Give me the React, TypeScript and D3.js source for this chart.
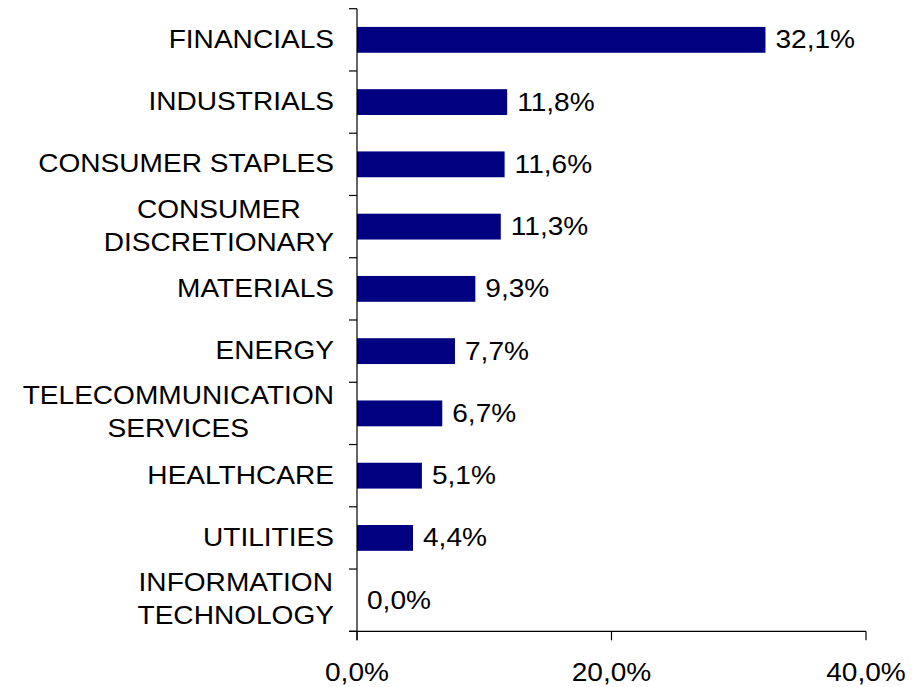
import { useEffect, useRef } from 'react';
import * as d3 from 'd3';

const categories = [
  ['FINANCIALS'],
  ['INDUSTRIALS'],
  ['CONSUMER STAPLES'],
  ['CONSUMER', 'DISCRETIONARY'],
  ['MATERIALS'],
  ['ENERGY'],
  ['TELECOMMUNICATION', 'SERVICES'],
  ['HEALTHCARE'],
  ['UTILITIES'],
  ['INFORMATION', 'TECHNOLOGY'],
];
const values = [32.1, 11.8, 11.6, 11.3, 9.3, 7.7, 6.7, 5.1, 4.4, 0.0];
const xTicks = [0, 20, 40];

const W = 918;
const H = 687;
const FONT = '"Liberation Sans", Arial, sans-serif';
const FS = 26;
const STRETCH = 1.08;

const fmt = (v: number) => v.toFixed(1).replace('.', ',') + '%';

export default function App() {
  const ref = useRef<SVGSVGElement>(null);

  useEffect(() => {
    if (!ref.current) return;
    const svg = d3.select(ref.current);
    svg.selectAll('*').remove();

    const margin = { top: 8.7, left: 357, right: 52, bottom: 55.7 };
    const innerW = W - margin.left - margin.right;
    const innerH = H - margin.top - margin.bottom;

    const keys = categories.map((c) => c.join(' '));
    const x = d3.scaleLinear().domain([0, 40]).range([0, innerW]);
    const y = d3.scaleBand().domain(keys).range([0, innerH])
      .paddingInner(0.585).paddingOuter(0.2925);
    const step = y.step();

    const g = svg.append('g').attr('transform', `translate(${margin.left},${margin.top})`);

    // bars
    g.selectAll('rect.bar')
      .data(values)
      .join('rect')
      .attr('class', 'bar')
      .attr('x', 0)
      .attr('y', (_, i) => y(keys[i])!)
      .attr('width', (d) => x(d))
      .attr('height', y.bandwidth())
      .attr('fill', '#000080');

    // axes lines
    g.append('line')
      .attr('x1', 0).attr('x2', 0)
      .attr('y1', 0).attr('y2', innerH + 9)
      .attr('stroke', '#000').attr('stroke-width', 1.2);
    g.append('line')
      .attr('x1', -8).attr('x2', innerW)
      .attr('y1', innerH).attr('y2', innerH)
      .attr('stroke', '#000').attr('stroke-width', 1.2);

    // y ticks at band boundaries
    d3.range(keys.length + 1).forEach((i) => {
      g.append('line')
        .attr('x1', -8).attr('x2', 0)
        .attr('y1', i * step).attr('y2', i * step)
        .attr('stroke', '#000').attr('stroke-width', 1.2);
    });

    // x ticks + labels
    xTicks.forEach((t) => {
      g.append('line')
        .attr('x1', x(t)).attr('x2', x(t))
        .attr('y1', innerH).attr('y2', innerH + 9)
        .attr('stroke', '#000').attr('stroke-width', 1.2);
      g.append('text')
        .attr('transform', `translate(${x(t)},${innerH + 50}) scale(${STRETCH},1)`)
        .attr('text-anchor', 'middle')
        .attr('font-family', FONT)
        .attr('font-size', FS)
        .attr('fill', '#000')
        .text(fmt(t));
    });

    // category labels
    categories.forEach((lines, i) => {
      const cy = y(keys[i])! + y.bandwidth() / 2;
      const lg = g.append('g').attr('transform', `translate(-23,${cy}) scale(${STRETCH},1)`);
      if (lines.length === 1) {
        lg.append('text')
          .attr('x', 0).attr('y', 8)
          .attr('text-anchor', 'end')
          .attr('font-family', FONT)
          .attr('font-size', FS)
          .attr('fill', '#000')
          .text(lines[0]);
      } else {
        const texts = lines.map((l, j) =>
          lg.append('text')
            .attr('y', -9 + j * 33)
            .attr('text-anchor', 'middle')
            .attr('font-family', FONT)
            .attr('font-size', FS)
            .attr('fill', '#000')
            .text(l)
        );
        const maxW = d3.max(texts, (t) => (t.node() as SVGTextElement).getComputedTextLength()) || 0;
        texts.forEach((t) => t.attr('x', -maxW / 2));
      }
    });

    // value labels
    values.forEach((v, i) => {
      const cy = y(keys[i])! + y.bandwidth() / 2;
      g.append('text')
        .attr('transform', `translate(${x(v) + 10},${cy + 8.5}) scale(${STRETCH},1)`)
        .attr('font-family', FONT)
        .attr('font-size', FS)
        .attr('fill', '#000')
        .text(fmt(v));
    });
  }, []);

  return (
    <svg
      ref={ref}
      width={W}
      height={H}
      style={{ position: 'absolute', left: 0, top: 0, background: '#fff' }}
    />
  );
}
